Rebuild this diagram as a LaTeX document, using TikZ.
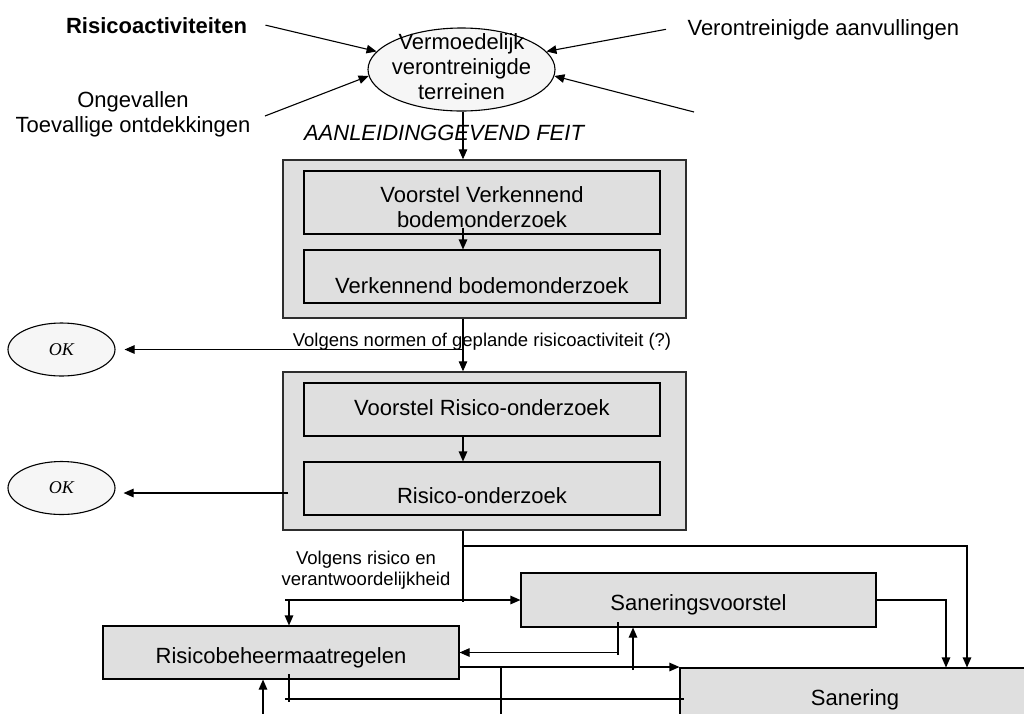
\documentclass[tikz,border=0pt]{standalone}
\usepackage{fontspec}
\setmainfont{Liberation Sans}
\newfontfamily\okfont{Liberation Serif}
\usetikzlibrary{arrows.meta,shapes.geometric,calc}

\definecolor{boxgray}{RGB}{223,223,223}
\definecolor{ellfill}{RGB}{246,246,246}
\definecolor{edge}{RGB}{45,45,45}

\begin{document}
\begin{tikzpicture}[x=1pt,y=-1pt,
  txt/.style={font=\fontsize{22}{25}\selectfont},
  txtb/.style={font=\fontsize{22}{25}\selectfont\bfseries},
  txti/.style={font=\fontsize{22}{25}\selectfont\itshape},
  lab/.style={font=\fontsize{18.5}{21}\selectfont},
  stage/.style={draw=edge, line width=1.4pt, fill=boxgray, inner sep=0pt,
    minimum width=403pt, minimum height=158pt},
  stepbox/.style={draw=black, line width=1.1pt, fill=boxgray, inner sep=0pt,
    minimum width=356pt, minimum height=#1, align=center, txt},
  baseat/.style={text height=#1, text depth=0pt},
  site/.style={ellipse, draw=black, line width=1.1pt, fill=ellfill, inner sep=0pt,
    minimum width=187pt, minimum height=83pt},
  okell/.style={ellipse, draw=black, line width=1.1pt, fill=ellfill, inner sep=0pt,
    minimum width=107pt, minimum height=53pt,
    font=\okfont\itshape\fontsize{18}{20}\selectfont},
  wire/.style={line width=1.1pt},
  arr/.style={wire, -{Triangle[length=10pt,width=8.5pt]}},
]
\useasboundingbox[fill=white] (0,0) rectangle (1024,713);
\clip (0,0) rectangle (1024,713);

% --- sources of suspected contamination ---
\node[txtb, anchor=base] (risk) at (156.5,33) {Risicoactiviteiten};
\node[txt, align=center] (acc) at (133,114) {Ongevallen\\Toevallige ontdekkingen};
\node[txt, anchor=base west] (fillsrc) at (684,35) {Verontreinigde aanvullingen};
\coordinate (other) at (694,112);

\node[site] (ell) at (461.5,69.5) {};
\node[txt, align=center] (elltxt) at (461.5,67) {Vermoedelijk\\verontreinigde\\terreinen};

\draw[arr] ([xshift=15pt]risk.east) -- (ell.168);
\draw[arr] ([xshift=11pt,yshift=-2pt]acc.east) -- (ell.184);
\draw[arr] ([xshift=-18pt]fillsrc.west) -- (ell.12);
\draw[arr] (other) -- (ell.356);

\node[txti, anchor=base] (cause) at (444,140) {AANLEIDINGGEVEND FEIT};

\coordinate (spine) at (463,0);

% --- exploratory soil investigation ---
\node[stage] (box1) at (484.5,239) {};
\node[stepbox=63pt,
  label={[txt, align=center, yshift=-5pt]center:{Voorstel Verkennend\\bodemonderzoek}}]
  (b1a) at (482,202.5) {};
\node[stepbox=53pt, baseat=33pt] (b1b) at (482,276.5) {Verkennend bodemonderzoek};

\draw[arr] (ell.south -| spine) -- (spine |- box1.north);
\draw[arr] ($(spine |- b1a.south)+(0,-7)$) -- (spine |- b1b.north);

\node[okell] (ok1) at (61.5,349.5) {OK};
\node[lab, anchor=base] (norms) at (482,346) {Volgens normen of geplande risicoactiviteit (?)};

% --- risk investigation ---
\node[stage] (box2) at (484.5,451) {};
\node[stepbox=53pt, baseat=11pt] (b2a) at (482,409.5) {Voorstel Risico-onderzoek};
\node[stepbox=53pt, baseat=29pt] (b2b) at (482,488.5) {Risico-onderzoek};

\draw[arr] (spine |- box1.south) -- (spine |- box2.north);
\draw[arr, shorten >=9pt] (spine |- ok1.east) -- (ok1.east);
\draw[arr] (spine |- b2a.south) -- (spine |- b2b.north);

\node[okell] (ok2) at (61.5,488) {OK};
\coordinate (o2) at (288,493);
\draw[arr, shorten >=8pt] (o2) -- (o2 -| ok2.east);

% --- remediation ---
\node[lab, align=center] (rule) at (366,570) {Volgens risico en\\verantwoordelijkheid};
\node[stepbox=54pt, minimum width=355pt, baseat=20pt] (sv) at (698.5,600) {Saneringsvoorstel};
\node[stepbox=53pt, baseat=21pt] (rb) at (281,652.5) {Risicobeheermaatregelen};
\node[stepbox=64pt, minimum width=350pt, baseat=10pt] (san) at (855,700) {Sanering};

\draw[wire] (spine |- box2.south) -- (spine |- 0,602);
\coordinate (rt) at (967,546);
\draw[arr] (spine |- rt) -- (rt) -- (rt |- san.north);

\coordinate (barL) at (285,600);
\draw[arr] (barL) -- (sv.west);
\coordinate (dn) at (289,600);
\draw[arr] (dn) -- (dn |- rb.north);

\coordinate (sdrop) at (618,622);
\draw[wire] (sdrop) -- (618,655);
\draw[arr] (sdrop |- rb.east) -- (rb.east);

\coordinate (sup) at (633,670);
\draw[arr] (sup) -- (sup |- sv.south);

\coordinate (svr) at (946,0);
\draw[arr] (sv.east) -| (svr |- san.north);

\coordinate (rbout) at (459,667);
\draw[arr] (rbout) -- (rbout -| san.west);
\coordinate (v1) at (501,667);
\draw[wire] (v1) -- (501,720);

\coordinate (low) at (285,699);
\draw[wire] (low) -- ($(low -| san.west)+(5,0)$);
\coordinate (tick) at (289,674);
\draw[wire] (tick) -- (289,702);

\coordinate (up) at (263,720);
\draw[arr] (up) -- (up |- rb.south);
\end{tikzpicture}
\end{document}
